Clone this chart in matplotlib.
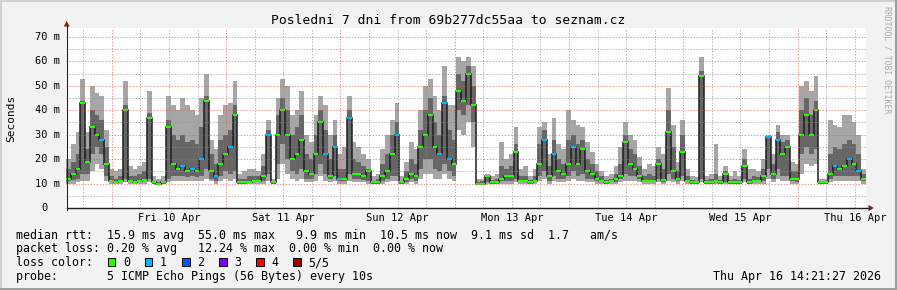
import matplotlib
matplotlib.use("Agg")
import matplotlib.pyplot as plt
import matplotlib.dates as mdates
from matplotlib.patches import Rectangle, Polygon
from matplotlib.transforms import blended_transform_factory
from datetime import datetime, timedelta

W, H, DPI = 897, 290, 100
MONO = "DejaVu Sans Mono"

# ---------------- data (ms, one bin per hour) ----------------
start = datetime(2026, 4, 9, 14, 21, 27)
end = start + timedelta(days=7)

lo = [10, 10, 10.5, 11, 11, 15, 18, 16, 11, 10, 10, 10, 10.5, 10, 10, 10, 10, 10.5, 10, 10,
      10, 10.5, 11, 11, 11, 11, 11, 11, 11, 12, 11, 10, 11, 12, 11, 12, 10, 10, 10, 10,
      10, 10, 11, 10, 12, 18, 14, 12, 11, 12, 10.5, 10.5, 11, 13, 11, 10.5, 11, 10, 10, 11,
      10.5, 10.5, 10.5, 10, 10, 10, 10, 10.5, 11, 11, 10, 10, 10.5, 10, 12, 14, 14, 12, 12, 14,
      12, 11, 32, 30, 35, 25, 10, 10, 10, 10, 10, 10, 10, 10, 10.5, 10, 10, 10, 10, 11,
      12, 10, 11, 10.5, 10.5, 11, 12, 11, 11, 10.5, 10.5, 10, 10, 10, 10, 10, 10.5, 11, 11, 11,
      10.5, 10, 10, 10, 10.5, 10, 11, 10.5, 10, 11, 10, 10, 10, 10.5, 10, 10, 10, 10, 10, 10,
      10, 10, 10.5, 10, 10, 10, 10, 12, 10.5, 12, 11, 11, 10, 10, 14, 18, 17, 18, 10, 10,
      10.5, 11, 11, 11, 11, 11, 11, 10]
ilo = [11, 11.5, 12, 14, 14, 22, 25, 22, 13, 10.5, 10.5, 10.5, 12, 10.5, 10.5, 10.5, 11, 12, 10, 10,
       10, 12, 13, 13, 13, 12.5, 13, 12.5, 13, 16, 12, 11, 13, 15, 14, 15, 10, 10, 10.5, 10.5,
       10.5, 11, 14, 10, 18, 26, 20, 15, 14, 16, 12, 12, 14, 18, 14, 12, 13, 11, 11, 14,
       12, 12, 11.5, 11, 10, 10, 11, 12, 13, 13, 10, 10.5, 12, 11, 16, 20, 20, 16, 15, 18,
       15, 13, 40, 38, 42, 35, 10, 10, 10.5, 10, 10, 11, 11, 11, 12, 10.5, 10.5, 10, 10.5, 13,
       15, 11, 13, 12, 12, 13, 15, 13, 14, 12, 12, 11, 10.5, 10, 10.5, 10.5, 12, 14, 13, 13,
       12, 10.5, 10.5, 10.5, 12, 10.5, 14, 12, 11, 13, 10.5, 10, 10, 12, 10, 10, 10.5, 10, 10.5, 10,
       10, 10, 12, 10, 10.5, 10.5, 11, 16, 12, 16, 13, 13, 11, 10.5, 22, 25, 22, 24, 10, 10,
       12, 13, 13, 13, 13, 13, 13, 11]
med = [12, 14, 16, 43, 19, 33, 30, 28, 18, 11, 10.5, 11, 40, 11, 10.5, 11, 11.5, 37, 10.5, 10,
       10.5, 33, 18, 16, 17, 15, 16, 15, 20, 44, 15, 13, 18, 22, 25, 38, 10.5, 10.5, 10.5, 11,
       11, 13, 30, 10.5, 30, 40, 30, 20, 22, 28, 15, 14, 22, 35, 22, 13, 25, 12, 12, 37,
       14, 14, 13, 15, 10.5, 10.5, 13, 15, 22, 30, 10.5, 12, 14, 13, 25, 30, 38, 25, 22, 43,
       20, 18, 48, 44, 55, 42, 10, 10, 13, 10.5, 10.5, 12, 13, 13, 23, 11, 11, 10.5, 11, 18,
       28, 13, 22, 15, 14, 18, 25, 18, 24, 15, 14, 12, 11, 10.5, 11, 12, 13, 27, 18, 16,
       13, 11, 11, 11, 18, 11.5, 31, 15, 12, 23, 11, 10.5, 10.5, 54, 10.5, 10.5, 11, 10.5, 14, 10.5,
       10.5, 10.5, 17, 10.5, 11, 11, 13, 29, 14, 28, 22, 25, 12, 12, 30, 38, 30, 40, 10.5, 10.5,
       14, 17, 16, 17, 20, 18, 15, 12]
ihi = [16, 19, 22, 44, 24, 40, 38, 36, 25, 13, 12, 13, 42, 13, 13, 14, 15, 39, 11, 10.5,
       11, 36, 30, 28, 30, 27, 28, 26, 33, 46, 22, 18, 28, 30, 32, 42, 12, 12, 13, 13,
       13, 17, 32, 11, 38, 45, 40, 30, 33, 38, 22, 20, 30, 40, 32, 20, 30, 16, 16, 40,
       20, 19, 17, 16, 11, 12, 18, 22, 30, 35, 11, 15, 20, 18, 32, 40, 45, 35, 30, 46,
       32, 28, 55, 52, 58, 50, 10.5, 11, 13, 11.5, 12, 17, 16, 17, 26, 13, 13, 11.5, 13, 26,
       32, 17, 28, 20, 18, 28, 30, 26, 28, 20, 18, 15, 13, 11.5, 12, 14, 18, 30, 24, 22,
       17, 13, 14, 13, 20, 16, 40, 25, 15, 30, 13, 11.5, 11, 56, 11.5, 12, 14, 11.5, 15, 11.5,
       12, 11.5, 20, 12, 13, 12.5, 16, 29.5, 18, 31, 27, 28, 15, 15, 40, 45, 38, 44, 11, 11,
       22, 25, 24, 26, 28, 26, 22, 14]
hi = [20, 26, 31, 53, 31, 50, 47, 46, 32, 16, 15, 16, 52, 17, 16, 17, 19, 48, 13, 12,
      13, 46, 42, 40, 45, 42, 40, 38, 45, 55, 28, 24, 38, 42, 43, 52, 14, 15, 16, 16,
      15, 22, 36, 12, 45, 53, 50, 38, 40, 48, 30, 27, 38, 46, 42, 30, 36, 22, 25, 46,
      27, 25, 22, 20, 13, 14, 24, 30, 36, 43, 13, 19, 27, 24, 40, 50, 53, 46, 40, 58,
      42, 42, 62, 60, 62, 58, 12, 12, 14, 13, 14, 27, 20, 22, 33, 16, 17, 13, 16, 33,
      35, 22, 37, 26, 24, 40, 36, 34, 33, 27, 23, 18, 15, 13, 14, 17, 25, 35, 30, 28,
      21, 16, 18, 17, 25, 22, 49, 34, 19, 36, 16, 13, 12.5, 62, 13, 14, 26, 13, 17, 13,
      15, 13, 24, 16, 16, 15, 20, 30, 22, 34, 30, 30, 19, 18, 50, 52, 48, 54, 12, 12,
      36, 34, 33, 38, 38, 35, 30, 16]
loss_hours = [7, 24, 26, 28, 31, 34, 42, 54, 56, 57, 59, 69, 78, 79, 80,
              100, 102, 106, 147, 149, 161, 164, 166]

day_labels = ["Fri 10 Apr", "Sat 11 Apr", "Sun 12 Apr", "Mon 13 Apr",
              "Tue 14 Apr", "Wed 15 Apr", "Thu 16 Apr"]
y_values = [0, 10, 20, 30, 40, 50, 60, 70]
y_labels = ["0", "10 m", "20 m", "30 m", "40 m", "50 m", "60 m", "70 m"]
loss_names = ["0", "1", "2", "3", "4", "5/5"]
loss_colors = ["#26ff00", "#00b8ff", "#0059ff", "#7e00ff", "#ff0000", "#a10000"]

title = "Posledni 7 dni from 69b277dc55aa to seznam.cz"
legend_lines = [
    "median rtt:  15.9 ms avg  55.0 ms max   9.9 ms min  10.5 ms now  9.1 ms sd  1.7   am/s",
    "packet loss: 0.20 % avg   12.24 % max  0.00 % min  0.00 % now",
    "loss color:",
    "probe:       5 ICMP Echo Pings (56 Bytes) every 10s",
]
stamp = "Thu Apr 16 14:21:27 2026"

# ---------------- figure ----------------
fig = plt.figure(figsize=(W / DPI, H / DPI), dpi=DPI, facecolor="#f2f2f2")

def fx(x):
    return x / W

def fy(y):
    return 1 - y / H

# 3D frame
for (x, y, w, h, c) in [(0, 0, W, 2, "#cfcfcf"), (0, 0, 2, H, "#cfcfcf"),
                        (0, H - 2, W, 2, "#9e9e9e"), (W - 2, 0, 2, H, "#9e9e9e")]:
    fig.patches.append(Rectangle((fx(x), fy(y + h)), w / W, h / H, transform=fig.transFigure,
                                 facecolor=c, edgecolor="none", zorder=0))

X0, X1, Y0, Y1 = 66, 866, 208, 28
ax = fig.add_axes([fx(X0), fy(Y0), (X1 - X0) / W, (Y0 - Y1) / H])
ax.set_facecolor("white")
ax.set_xlim(mdates.date2num(start), mdates.date2num(end))
ax.set_ylim(0, 73.68)
for s in ax.spines.values():
    s.set_visible(False)
ax.set_xticks([])
ax.set_yticks([])

n = len(med)
edges = [mdates.date2num(start + timedelta(hours=h)) for h in range(n + 1)]
left = edges[:-1]
bw = 1 / 24

ax.bar(left, [b - a for a, b in zip(lo, hi)], bottom=lo, width=bw, align="edge",
       color="#a6a6a6", linewidth=0, antialiased=False, zorder=2)
ax.bar(left, [b - a for a, b in zip(ilo, ihi)], bottom=ilo, width=bw, align="edge",
       color="#666666", linewidth=0, antialiased=False, zorder=3)
ax.stairs(med, edges, baseline=None, color="#1c1c1c", linewidth=1.1, zorder=4)
seg_colors = [loss_colors[1] if h in loss_hours else loss_colors[0] for h in range(n)]
ax.hlines(med, edges[:-1], edges[1:], colors=seg_colors, linewidth=1.5, zorder=5)

# grid (dotted, drawn on top, as rrdtool does)
GRID = (0.56, 0.56, 0.56, 0.6)
MGRID = (0.87, 0.31, 0.31, 0.55)
DOT = (0, (1.5, 1.5))
t = datetime(2026, 4, 9, 18, 0)
while t < end:
    major = t.hour == 0
    ax.axvline(mdates.date2num(t), color=MGRID if major else GRID, linewidth=0.72,
               linestyle=DOT, zorder=6)
    t += timedelta(hours=6)
for v in range(5, 74, 5):
    ax.axhline(v, color=MGRID if v % 10 == 0 else GRID, linewidth=0.72,
               linestyle=DOT, zorder=6)

# axes lines and arrows
AXC = "#1f1f1f"
ARROW = "#801f1f"
fig.add_artist(plt.Line2D([fx(X0 + 0.5), fx(X1 + 3)], [fy(Y0), fy(Y0)], color=AXC,
                          linewidth=1.0, transform=fig.transFigure))
fig.add_artist(plt.Line2D([fx(X0 + 0.7), fx(X0 + 0.7)], [fy(Y0 + 2), fy(Y1 - 2)], color=AXC,
                          linewidth=0.8, transform=fig.transFigure))
fig.patches.append(Polygon([(fx(63.7), fy(26.5)), (fx(69.7), fy(26.5)), (fx(66.7), fy(21.0))],
                           closed=True, transform=fig.transFigure, facecolor=ARROW,
                           edgecolor="none"))
fig.patches.append(Polygon([(fx(868.5), fy(205.0)), (fx(868.5), fy(211.0)), (fx(874.0), fy(208.0))],
                           closed=True, transform=fig.transFigure, facecolor=ARROW,
                           edgecolor="none"))

# x labels at noon
trx = blended_transform_factory(ax.transData, fig.transFigure)
for i, lab in enumerate(day_labels):
    tnoon = datetime(2026, 4, 10, 12, 0) + timedelta(days=i)
    ax.text(mdates.date2num(tnoon), fy(221), lab, transform=trx, ha="center", va="baseline",
            family=MONO, fontsize=7.5, color="black", clip_on=False)

# y labels
CW_AX = 6.27
try_ = blended_transform_factory(fig.transFigure, ax.transData)
for v, lab in zip(y_values, y_labels):
    right = 60 if len(lab) == 4 else 60 - 2 * CW_AX
    ax.text(fx(right), v, lab, transform=try_, ha="right", va="center",
            family=MONO, fontsize=7.5, color="black", clip_on=False)

# title, y axis name, watermark
fig.text(fx(448), fy(23.5), title, ha="center", va="baseline", family=MONO, fontsize=9.4)
fig.text(fx(11), fy(118), "Seconds", ha="center", va="center", rotation=90,
         family=MONO, fontsize=8)
fig.text(fx(887), fy(60), "RRDTOOL / TOBI OETIKER", ha="center", va="center", rotation=270,
         family=MONO, fontsize=5.9, color="#aaaaaa")

# legend
base = [238.5, 252.4, 266.3, 280.3]
for y, line in zip(base, legend_lines):
    fig.text(fx(16), fy(y), line, ha="left", va="baseline", family=MONO, fontsize=8.4)
for i, (name, c) in enumerate(zip(loss_names, loss_colors)):
    sx = 107.7 + i * 37.1
    fig.patches.append(Rectangle((fx(sx), fy(265.5)), 7.6 / W, 7.6 / H, transform=fig.transFigure,
                                 facecolor=c, edgecolor="black", linewidth=0.7))
    fig.text(fx(sx + 15.3), fy(266.3), name, ha="left", va="baseline", family=MONO, fontsize=8.4)
fig.text(fx(881), fy(280.3), stamp, ha="right", va="baseline", family=MONO, fontsize=8.4)

fig.savefig("out.png", dpi=DPI, facecolor=fig.get_facecolor())
